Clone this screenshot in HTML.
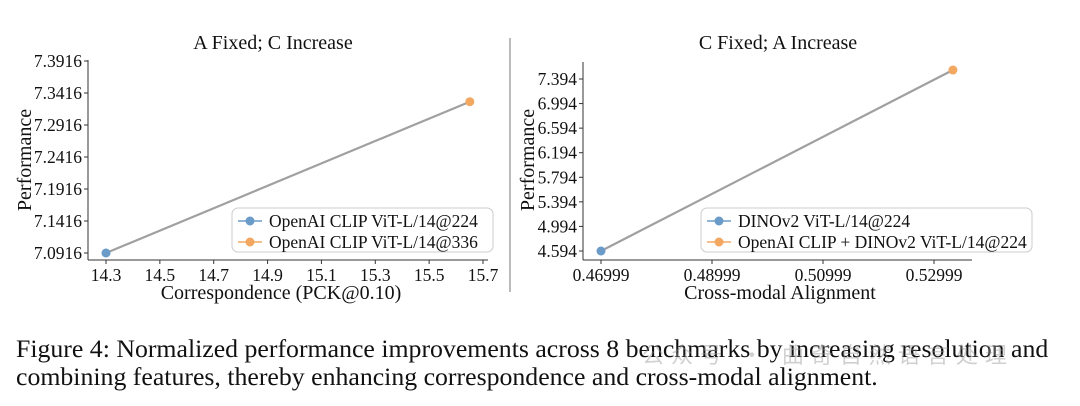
<!DOCTYPE html>
<html><head><meta charset="utf-8"><style>
body{margin:0;background:#fff;width:1080px;height:406px;overflow:hidden;font-family:"Liberation Serif",serif}
svg text{font-family:"Liberation Serif","Noto Serif CJK SC",serif;fill:#111}
.cap{position:absolute;left:16px;top:335px;font-size:25.8px;line-height:28px;color:#111;white-space:nowrap}
</style></head><body>
<svg id="fig" width="1080" height="406" style="position:absolute;left:0;top:0">
<line x1="510" y1="38" x2="510" y2="292" stroke="#bbb" stroke-width="2"/>
<g id="left"></g>
<g id="right"></g>
</svg>
<div class="cap">Figure 4: Normalized performance improvements across 8 benchmarks by increasing resolution and<br>combining features, thereby enhancing correspondence and cross-modal alignment.</div>
<div style="position:absolute;left:642px;top:338px;font-family:'Noto Sans CJK SC',sans-serif;font-size:22px;letter-spacing:7px;color:rgba(150,150,150,0.45);white-space:nowrap">公众号 · 曲奇自然语言处理</div>
<script>
const leftXTicks=[14.3,14.5,14.7,14.9,15.1,15.3,15.5,15.7];
const leftYTicks=[7.0916,7.1416,7.1916,7.2416,7.2916,7.3416,7.3916];
const leftX=[14.3,15.651];
const leftY=[7.0916,7.328];
const leftNames=["OpenAI CLIP ViT-L/14@224","OpenAI CLIP ViT-L/14@336"];
const rightXTicks=[0.46999,0.48999,0.50999,0.52999];
const rightYTicks=[4.594,4.994,5.394,5.794,6.194,6.594,6.994,7.394];
const rightX=[0.46999,0.5334];
const rightY=[4.594,7.54];
const rightNames=["DINOv2 ViT-L/14@224","OpenAI CLIP + DINOv2 ViT-L/14@224"];
const colors=["#6a9bc9","#f3a862"];
const NS="http://www.w3.org/2000/svg";
function mk(g,tag,a,txt){const e=document.createElementNS(NS,tag);for(const k in a)e.setAttribute(k,a[k]);if(txt!=null)e.textContent=txt;g.appendChild(e);return e;}
function chart(g,c){
  const sx=v=>c.x0px+(v-c.x0)/(c.x1-c.x0)*(c.x1px-c.x0px);
  const sy=v=>c.y0px-(v-c.y0)/(c.y1-c.y0)*(c.y0px-c.y1px);
  let t=mk(g,'text',{x:c.tx,y:49,'font-size':20,'text-anchor':'middle'},c.title);
  
  
  let a=mk(g,'line',{x1:c.ax,y1:c.top,x2:c.ax,y2:260,stroke:'#333','stroke-width':1});
  
  
  a=mk(g,'line',{x1:c.ax,y1:260,x2:c.right,y2:260,stroke:'#333','stroke-width':1});
  
  
  c.yt.forEach(v=>{const y=sy(v);mk(g,'line',{x1:c.ax-4,y1:y,x2:c.ax,y2:y,stroke:'#333'});
    const l=mk(g,'text',{x:c.ax-6,y:y+6,'font-size':17.5,'text-anchor':'end'},String(v));
    
    });
  c.xt.forEach(v=>{const x=sx(v);mk(g,'line',{x1:x,y1:260,x2:x,y2:264,stroke:'#333'});
    const l=mk(g,'text',{x:x,y:281,'font-size':17.5,'text-anchor':'middle'},String(v));
    
    });
  t=mk(g,'text',{x:c.xlx,y:299,'font-size':20,'text-anchor':'middle'},c.xl);
  
  
  t=mk(g,'text',{x:0,y:0,'font-size':20,'text-anchor':'middle',transform:`translate(${c.ylx},160) rotate(-90)`},'Performance');
  
  
  const pts=c.X.map((v,i)=>sx(v)+','+sy(c.Y[i])).join(' ');
  const ln=mk(g,'polyline',{points:pts,fill:'none',stroke:'#a0a0a0','stroke-width':2.2});
  
  
  c.X.forEach((v,i)=>{const p=mk(g,'circle',{cx:sx(v),cy:sy(c.Y[i]),r:4.5,fill:colors[i]});
    
    });
  const lg=mk(g,'g',{});
  
  
  mk(lg,'rect',{x:c.lx,y:208,width:c.lw,height:44,rx:6,fill:'rgba(255,255,255,0.85)',stroke:'#ccc'});
  c.names.forEach((n,i)=>{const y=221+i*21;
    const e=mk(lg,'g',{});
    
    
    mk(e,'line',{x1:c.lx+6,y1:y,x2:c.lx+30,y2:y,stroke:colors[i],'stroke-width':1.5});
    mk(e,'circle',{cx:c.lx+18,cy:y,r:4.5,fill:colors[i]});
    mk(e,'text',{x:c.lx+37,y:y+6,'font-size':17.5},n);});
}
chart(document.getElementById('left'),{title:'A Fixed; C Increase',tx:273,ax:88,top:60,right:488,
 x0:14.3,x1:15.7,x0px:106,x1px:483,y0:7.0916,y1:7.3916,y0px:253,y1px:61,
 xt:leftXTicks,yt:leftYTicks,X:leftX,Y:leftY,names:leftNames,xl:'Correspondence (PCK@0.10)',xlx:281,ylx:31,lx:232,lw:261});
chart(document.getElementById('right'),{title:'C Fixed; A Increase',tx:778,ax:583,top:62,right:972,
 x0:0.46999,x1:0.52999,x0px:601,x1px:934,y0:4.594,y1:7.394,y0px:251,y1px:79,
 xt:rightXTicks,yt:rightYTicks,X:rightX,Y:rightY,names:rightNames,xl:'Cross-modal Alignment',xlx:780,ylx:534,lx:701,lw:331});
</script>
</body></html>
